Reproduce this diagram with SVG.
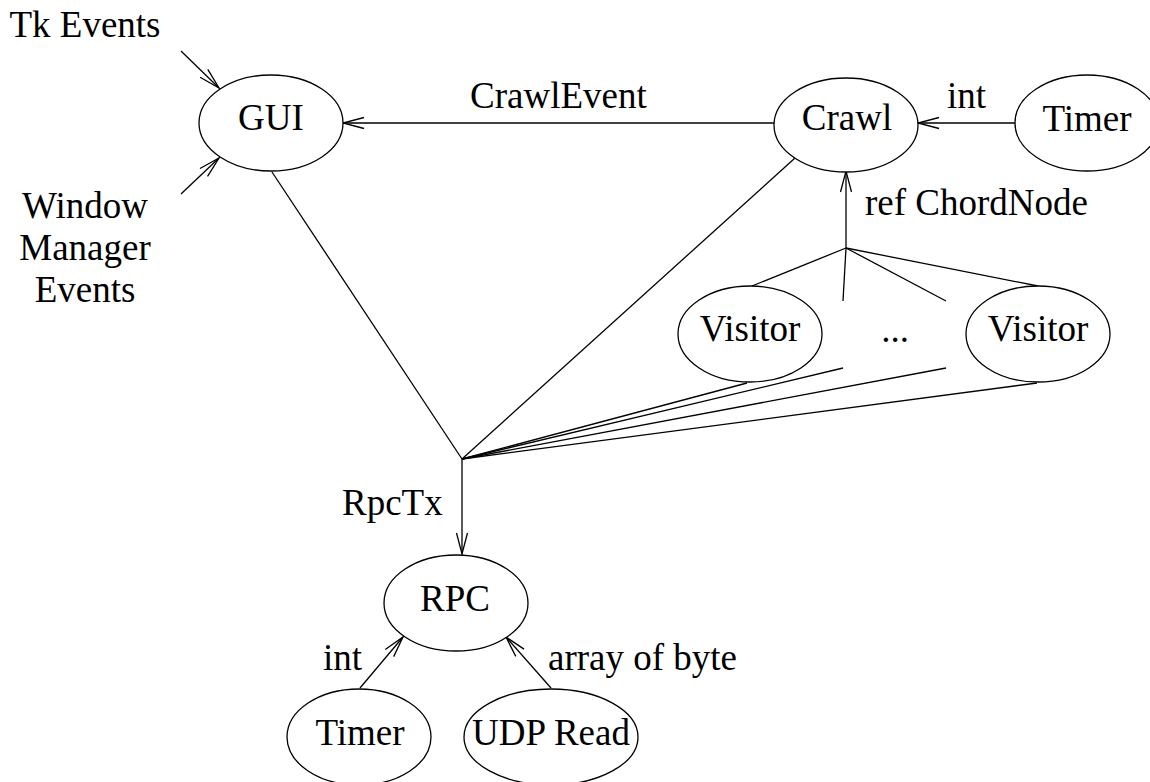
<svg xmlns="http://www.w3.org/2000/svg" width="1150" height="782" viewBox="0 0 1150 782">
<style>
  text { font-family: "Liberation Serif", "Times New Roman", serif; font-size: 37px; fill: #000; }
  .m { text-anchor: middle; }
  ellipse { fill: #fff; stroke: #000; stroke-width: 1.3; }
  line { stroke: #000; stroke-width: 1.3; }
  .a { marker-end: url(#arr); }
</style>
<defs>
  <marker id="arr" markerUnits="userSpaceOnUse" markerWidth="26" markerHeight="14" viewBox="-23 -7 26 14" refX="0" refY="0" orient="auto">
    <path d="M-21,-5.5 L0,0 L-21,5.5" fill="none" stroke="#000" stroke-width="1.3"/>
  </marker>
</defs>
<rect width="1150" height="782" fill="#fff"/>
<g id="connectors">
  <line class="a" x1="181" y1="51" x2="219" y2="88"/>
  <line class="a" x1="181" y1="194" x2="219" y2="158"/>
  <line class="a" x1="774" y1="123" x2="343" y2="123"/>
  <line class="a" x1="1015" y1="123" x2="918" y2="123"/>
  <line class="a" x1="846" y1="248" x2="846" y2="171"/>
  <line class="a" x1="462" y1="459" x2="462" y2="554"/>
  <line class="a" x1="360" y1="688" x2="403" y2="637"/>
  <line class="a" x1="551" y1="688" x2="506" y2="637"/>
  <line x1="272" y1="172" x2="462" y2="459"/>
  <line x1="795" y1="158" x2="462" y2="459"/>
  <line x1="846" y1="248" x2="752" y2="286"/>
  <line x1="846" y1="248" x2="843" y2="301"/>
  <line x1="846" y1="248" x2="946" y2="301"/>
  <line x1="846" y1="248" x2="1038" y2="286"/>
  <line x1="747" y1="383" x2="462" y2="459"/>
  <line x1="843" y1="368" x2="462" y2="459"/>
  <line x1="946" y1="368" x2="462" y2="459"/>
  <line x1="1037" y1="383" x2="462" y2="459"/>
</g>
<g id="labels">
  <text x="85" y="37" class="m">Tk Events</text>
  <text x="85" y="218" class="m">Window</text>
  <text x="85" y="260" class="m">Manager</text>
  <text x="85" y="302" class="m">Events</text>
  <text x="470" y="108">CrawlEvent</text>
  <text x="947" y="108">int</text>
  <text x="865" y="215">ref ChordNode</text>
  <text x="895" y="342" class="m">...</text>
  <text x="342" y="515">RpcTx</text>
  <text x="323" y="670">int</text>
  <text x="548" y="670">array of byte</text>
</g>
<g id="gui"><ellipse cx="271" cy="123" rx="72" ry="48"/><text x="271" y="130" class="m">GUI</text></g>
<g id="crawl"><ellipse cx="846" cy="125" rx="72" ry="47"/><text x="847" y="130" class="m">Crawl</text></g>
<g id="timer1"><ellipse cx="1087" cy="123" rx="72" ry="48"/><text x="1087" y="131" class="m">Timer</text></g>
<g id="visitor1"><ellipse cx="750" cy="334" rx="72" ry="48"/><text x="750" y="341" class="m">Visitor</text></g>
<g id="visitor2"><ellipse cx="1038" cy="334" rx="72" ry="48"/><text x="1038" y="341" class="m">Visitor</text></g>
<g id="rpc"><ellipse cx="456" cy="603" rx="72" ry="48"/><text x="455" y="611" class="m">RPC</text></g>
<g id="timer2"><ellipse cx="359" cy="737" rx="72" ry="48"/><text x="360" y="745" class="m">Timer</text></g>
<g id="udp"><ellipse cx="551" cy="737" rx="87" ry="48"/><text x="551" y="745" class="m">UDP Read</text></g>
</svg>
